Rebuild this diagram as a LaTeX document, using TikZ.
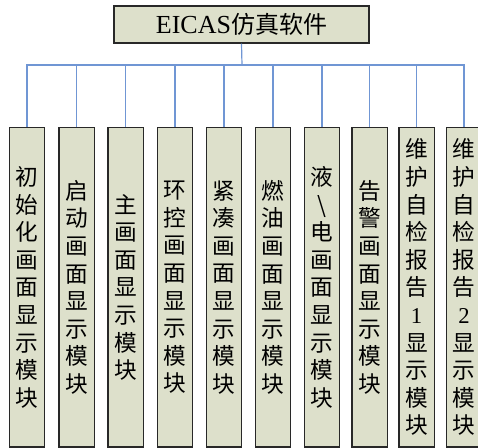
\documentclass[tikz,border=0pt]{standalone}
\usepackage{fontspec}
\setmainfont{Liberation Serif}
\newfontfamily\cjk{Noto Sans CJK SC}
\definecolor{boxfill}{RGB}{221,224,203}
\definecolor{conncol}{RGB}{112,150,212}
\definecolor{edgecol}{RGB}{40,40,40}
\begin{document}
\begin{tikzpicture}[x=0.75pt,y=-0.75pt,
  topbox/.style={draw=edgecol,line width=1.1pt,fill=boxfill,minimum width=191pt,minimum height=27.5pt,inner sep=0pt},
  modbox/.style={draw=edgecol,line width=1pt,fill=boxfill,anchor=north,minimum width=26.5pt,minimum height=239.5pt,inner sep=0pt,align=center,font=\fontsize{17pt}{20.7pt}\cjk},
  conn/.style={draw=conncol,line width=0.9pt}]
\useasboundingbox (0,0) rectangle (478,447);
\node[topbox] (top) at (241.5,24.5) {\fontsize{19.5pt}{22pt}\selectfont EICAS{\cjk\fontsize{18pt}{22pt}\selectfont 仿真软件}};
\coordinate (bus) at (242,65);
\node[modbox] (b1) at (27,127) {初\\始\\化\\画\\面\\显\\示\\模\\块};
\node[modbox] (b2) at (76.5,127) {启\\动\\画\\面\\显\\示\\模\\块};
\node[modbox] (b3) at (125.5,127) {主\\画\\面\\显\\示\\模\\块};
\node[modbox] (b4) at (175,127) {环\\控\\画\\面\\显\\示\\模\\块};
\node[modbox] (b5) at (224,127) {紧\\凑\\画\\面\\显\\示\\模\\块};
\node[modbox] (b6) at (273,127) {燃\\油\\画\\面\\显\\示\\模\\块};
\node[modbox] (b7) at (322,127) {液\\\textbackslash\\电\\画\\面\\显\\示\\模\\块};
\node[modbox] (b8) at (369.5,127) {告\\警\\画\\面\\显\\示\\模\\块};
\node[modbox] (b9) at (416.5,127) {维\\护\\自\\检\\报\\告\\{\rmfamily 1}\\显\\示\\模\\块};
\node[modbox] (b10) at (464,127) {维\\护\\自\\检\\报\\告\\{\rmfamily 2}\\显\\示\\模\\块};
\draw[conn] (top.south) -- (bus);
\draw[conn] (b1.north) -- (b1.north |- bus) -- (b10.north |- bus) -- (b10.north);
\foreach \i in {2,...,9} {\draw[conn] (b\i.north) -- (b\i.north |- bus);}
\end{tikzpicture}
\end{document}
